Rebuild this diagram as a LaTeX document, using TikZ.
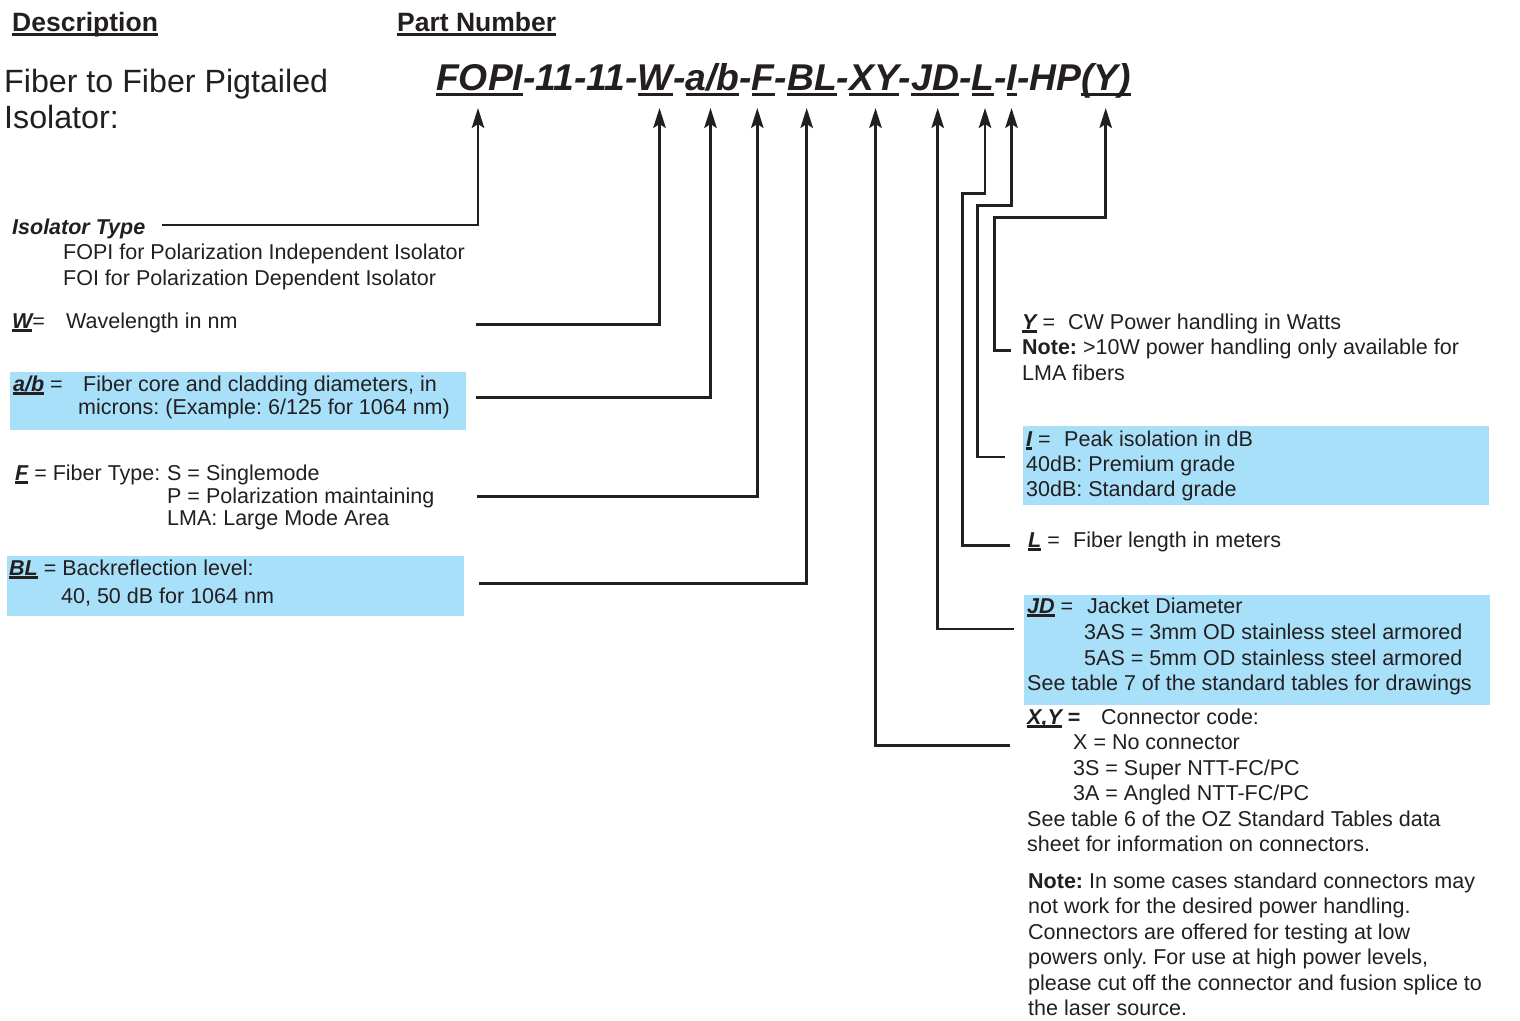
\documentclass[tikz,border=0pt]{standalone}
\usepackage{fontspec}
\setmainfont{Liberation Sans}
\usetikzlibrary{arrows.meta}
\definecolor{txtc}{RGB}{35,31,32}
\definecolor{boxc}{RGB}{168,224,250}
\newsavebox\ulbox
\newcommand\ulgen[3]{\sbox\ulbox{#3}\rlap{\rule[#1]{\wd\ulbox}{#2}}\usebox\ulbox}
\newcommand\uln[1]{\ulgen{-3.6pt}{2.3pt}{#1}}
\newcommand\lab[1]{\uln{\bfseries\itshape #1}}
\newcommand\bodyfs{\fontsize{21.5}{25}\selectfont}
\newcommand\headfs{\fontsize{26.5}{30}\selectfont}
\newcommand\titlefs{\fontsize{32.2}{36}\selectfont}
\newcommand\codefs{\fontsize{37.3}{42}\selectfont}
\newcommand\cul[1]{\ulgen{-5.5pt}{3pt}{#1}}
\frenchspacing
\begin{document}
\frenchspacing
\begin{tikzpicture}[x=1pt,y=-1pt,
  t/.style={anchor=base west, inner sep=0pt, text=txtc, font=\bodyfs\frenchspacing},
  conn/.style={draw=txtc, line width=2.5pt, line join=miter,
    -{Stealth[length=20pt,width=12.5pt,inset=4pt]}},
  bluebox/.style={fill=boxc, draw=none, inner sep=0pt, anchor=north west}]
\useasboundingbox (0,0) rectangle (1520,1020);
\fill[white] (0,0) rectangle (1520,1020);

% blue boxes
\node[bluebox, minimum width=456pt, minimum height=58pt] (abbox) at (10,372) {};
\node[bluebox, minimum width=457pt, minimum height=60pt] (blbox) at (7,556) {};
\node[bluebox, minimum width=466pt, minimum height=79pt] (ibox) at (1023,426) {};
\node[bluebox, minimum width=466pt, minimum height=110pt] (jdbox) at (1024,595) {};

% headings
\node[t, font=\headfs] (desc) at (12,31) {\bfseries\ulgen{-4.5pt}{2.5pt}{Description}};
\node[t, font=\headfs] (pnum) at (397,31) {\bfseries\ulgen{-4.5pt}{2.5pt}{Part Number}};
\node[t, font=\titlefs] (ttl1) at (4,92) {Fiber to Fiber Pigtailed};
\node[t, font=\titlefs] (ttl2) at (4,128) {Isolator:};
\node[t, font=\codefs] (code) at (436,90) {\bfseries\itshape \cul{FOPI}-11-11-\cul{W}-\cul{a/b}-\cul{F}-\cul{BL}-\cul{XY}-\cul{JD}-\cul{L}-\cul{I}-HP\cul{(Y)}};

% left descriptions
\node[t] (itype) at (12,234) {\bfseries\itshape Isolator Type};
\node[t] (it1) at (63,259) {FOPI for Polarization Independent Isolator};
\node[t] (it2) at (63,285) {FOI for Polarization Dependent Isolator};
\node[t] (wlab) at (12,328) {\lab{W}=};
\node[t] (wtxt) at (66,328) {Wavelength in nm};
\node[t] (ablab) at (13,391) {\lab{a/b} =};
\node[t] (abt1) at (83,391) {Fiber core and cladding diameters, in};
\node[t] (abt2) at (78,414) {microns: (Example: 6/125 for 1064 nm)};
\node[t] (flab) at (15,480) {\lab{F} = Fiber Type:};
\node[t] (ft1) at (167,480) {S = Singlemode};
\node[t] (ft2) at (167,503) {P = Polarization maintaining};
\node[t] (ft3) at (167,525) {LMA: Large Mode Area};
\node[t] (bllab) at (9,575) {\lab{BL} = Backreflection level:};
\node[t] (blt2) at (61,603) {40, 50 dB for 1064 nm};

% right descriptions
\node[t] (ylab) at (1022,329) {\lab{Y} =};
\node[t] (yt1) at (1068,329) {CW Power handling in Watts};
\node[t] (yt2) at (1022,354) {\textbf{Note:} >10W power handling only available for};
\node[t] (yt3) at (1022,380) {LMA fibers};
\node[t] (ilab) at (1026,446) {\lab{I} =};
\node[t] (ixt1) at (1064,446) {Peak isolation in dB};
\node[t] (ixt2) at (1026,471) {40dB: Premium grade};
\node[t] (ixt3) at (1026,496) {30dB: Standard grade};
\node[t] (llab) at (1028,547) {\lab{L} =};
\node[t] (lt) at (1073,547) {Fiber length in meters};
\node[t] (jdlab) at (1027,613) {\lab{JD} =};
\node[t] (jdt1) at (1087,613) {Jacket Diameter};
\node[t] (jdt2) at (1084,639) {3AS = 3mm OD stainless steel armored};
\node[t] (jdt3) at (1084,665) {5AS = 5mm OD stainless steel armored};
\node[t] (jdt4) at (1027,690) {See table 7 of the standard tables for drawings};
\node[t] (xylab) at (1027,724) {\lab{X,Y} \textbf{=}};
\node[t] (xyt1) at (1101,724) {Connector code:};
\node[t] (xyt2) at (1073,749) {X = No connector};
\node[t] (xyt3) at (1073,775) {3S = Super NTT-FC/PC};
\node[t] (xyt4) at (1073,800) {3A = Angled NTT-FC/PC};
\node[t] (xyt5) at (1027,826) {See table 6 of the OZ Standard Tables data};
\node[t] (xyt6) at (1027,851) {sheet for information on connectors.};
\node[t] (nt1) at (1028,888) {\textbf{Note:} In some cases standard connectors may};
\node[t] (nt2) at (1028,913.5) {not work for the desired power handling.};
\node[t] (nt3) at (1028,939) {Connectors are offered for testing at low};
\node[t] (nt4) at (1028,964.5) {powers only. For use at high power levels,};
\node[t] (nt5) at (1028,990) {please cut off the connector and fusion splice to};
\node[t] (nt6) at (1028,1015) {the laser source.};

% arrow tips
\coordinate (aFOPI) at (478,108);
\coordinate (aW) at (659.5,108);
\coordinate (aAB) at (710.5,108);
\coordinate (aF) at (757.3,108);
\coordinate (aBL) at (806.7,108);
\coordinate (aXY) at (875.5,108);
\coordinate (aJD) at (937.7,108);
\coordinate (aL) at (985,108);
\coordinate (aI) at (1011.5,108);
\coordinate (aY) at (1105.7,108);

% connector start points and bends
\coordinate (sFOPI) at (162,225);
\coordinate (sW) at (476,324.5);
\coordinate (sAB) at (476,397.3);
\coordinate (sF) at (477,496.3);
\coordinate (sBL) at (479,583.3);
\coordinate (sXY) at (1010,745.3);
\coordinate (sJD) at (1014,629);
\coordinate (sL) at (1010,545.3);
\coordinate (sI) at (1005,457);
\coordinate (sY) at (1010.7,350.7);
\coordinate (bL1) at (962.7,545.3);
\coordinate (bL2) at (962.7,193.3);
\coordinate (bI1) at (977.7,457);
\coordinate (bI2) at (977.7,205.7);
\coordinate (bY1) at (994.3,350.7);
\coordinate (bY2) at (994.3,217.3);

\draw[conn] (sFOPI) -| (aFOPI);
\draw[conn] (sW) -| (aW);
\draw[conn] (sAB) -| (aAB);
\draw[conn] (sF) -| (aF);
\draw[conn] (sBL) -| (aBL);
\draw[conn] (sXY) -| (aXY);
\draw[conn] (sJD) -| (aJD);
\draw[conn] (sL) -- (bL1) -- (bL2) -| (aL);
\draw[conn] (sI) -- (bI1) -- (bI2) -| (aI);
\draw[conn] (sY) -- (bY1) -- (bY2) -| (aY);
\end{tikzpicture}
\end{document}
